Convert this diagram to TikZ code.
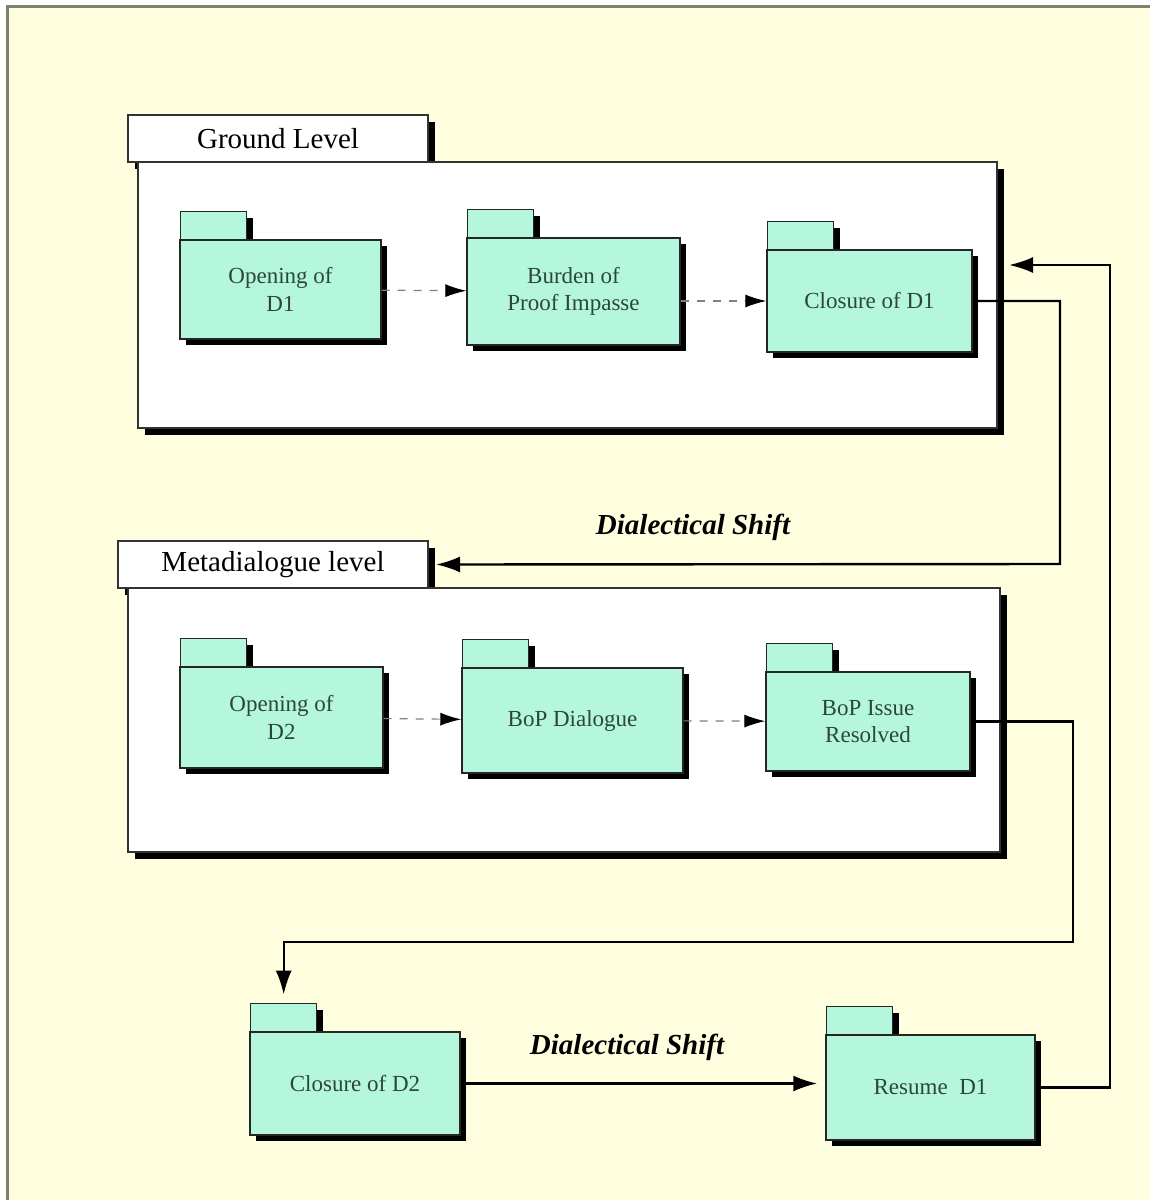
\documentclass[tikz,border=0pt]{standalone}
\usepackage{fontspec}
\setmainfont{Liberation Serif}
\usetikzlibrary{arrows.meta,shadows}
\definecolor{paper}{RGB}{255,255,224}
\definecolor{mint}{RGB}{181,247,221}
\definecolor{pkgtext}{RGB}{45,70,60}
\definecolor{framegray}{RGB}{128,128,112}
\tikzset{>={Latex[length=12pt,width=8pt]}}
\tikzset{
  level/.style = {draw=black!80,line width=1pt,fill=white,inner sep=0pt,
    drop shadow={shadow xshift=3.5pt,shadow yshift=-3.5pt,opacity=1,fill=black}},
  leveltab/.style = {level,font=\fontsize{14.5}{17}\selectfont},
  pkg/.style = {draw=black!85,line width=0.7pt,fill=mint,inner sep=0pt,
    text=pkgtext,align=center,font=\fontsize{11.5}{13.8}\selectfont,
    drop shadow={shadow xshift=3.2pt,shadow yshift=-3.2pt,opacity=1,fill=black}},
  pkgtab/.style = {pkg,minimum width=33pt,minimum height=14pt,anchor=south west},
  flow/.style = {-{Latex[length=10.5pt,width=6.5pt,color=black]},draw=gray,
    dash pattern=on 4pt off 4pt,line width=0.6pt},
  shiftline/.style = {->,line width=1.2pt},
  shiftlabel/.style = {font=\fontsize{14.5}{17}\selectfont\bfseries\itshape}
}

\begin{document}
\begin{tikzpicture}[x=0.5pt,y=-0.5pt]
  \useasboundingbox (0,0) rectangle (1150,1200);
  \fill[white] (0,0) rectangle (1150,1200);
  \draw[framegray,line width=1.5pt,fill=paper] (7,6) rectangle (1170,1220);

  % ground level
  \node[leveltab,minimum width=150pt,minimum height=23.5pt] (groundtab) at (278,138.5) {Ground Level};
  \node[level,minimum width=429.5pt,minimum height=133pt] (ground) at (567.5,295) {};
  \foreach \nm/\cx/\cy/\w/\h/\txt in {
    openA/280.5/289.5/201/99/{Opening of\\D1},
    burden/573.5/291.5/213/107/{Burden of\\Proof Impasse},
    closeA/869.5/301/205/102/{Closure of D1}}
  {
    \node[pkgtab] (\nm tab) at (\cx-\w/2,\cy-\h/2) {};
    \node[pkg,minimum width=0.5pt*\w,minimum height=0.5pt*\h] (\nm) at (\cx,\cy) {\txt};
  }
  \draw[flow] (openA) -- (burden);
  \draw[flow] (burden.east |- closeA) -- (closeA);

  % metadialogue level
  \node[leveltab,minimum width=155pt,minimum height=23.5pt] (metatab) at (273,564.5) {Metadialogue level};
  \node[level,minimum width=436pt,minimum height=132pt] (meta) at (564,720) {};
  \foreach \nm/\cx/\cy/\w/\h/\txt in {
    openB/281.5/717.5/203/101/{Opening of\\D2},
    bopdia/572.5/720.5/221/105/{BoP Dialogue},
    bopres/868/721.5/204/99/{BoP Issue\\Resolved},
    closeB/355/1083.5/210/103/{Closure of D2},
    resume/930.5/1087.5/209/105/{Resume~~D1}}
  {
    \node[pkgtab] (\nm tab) at (\cx-\w/2,\cy-\h/2) {};
    \node[pkg,minimum width=0.5pt*\w,minimum height=0.5pt*\h] (\nm) at (\cx,\cy) {\txt};
  }
  \draw[flow] (openB) -- (bopdia);
  \draw[flow] (bopdia) -- (bopres);

  % shifts between levels
  \coordinate (turnA) at (1060,564);
  \coordinate (turnB) at (1073,942);
  \coordinate (turnC) at (1110,265);
  \draw[shiftline,shorten >=3.5pt] (closeA.east) -| (turnA) -- (metatab.east);
  \node[shiftlabel] (shiftA) at (693,527) {Dialectical Shift};
  \draw[shiftline,shorten >=4pt] (bopres.east) -| (turnB) -| (closeBtab.north);
  \draw[shiftline,shorten >=4pt] (closeB.east) -- (closeB.east -| resume.west);
  \node[shiftlabel] (shiftB) at (627,1047) {Dialectical Shift};
  \draw[shiftline,shorten >=5.5pt] (resume.east) -| (turnC) -- (turnC -| ground.east);
\end{tikzpicture}
\end{document}
